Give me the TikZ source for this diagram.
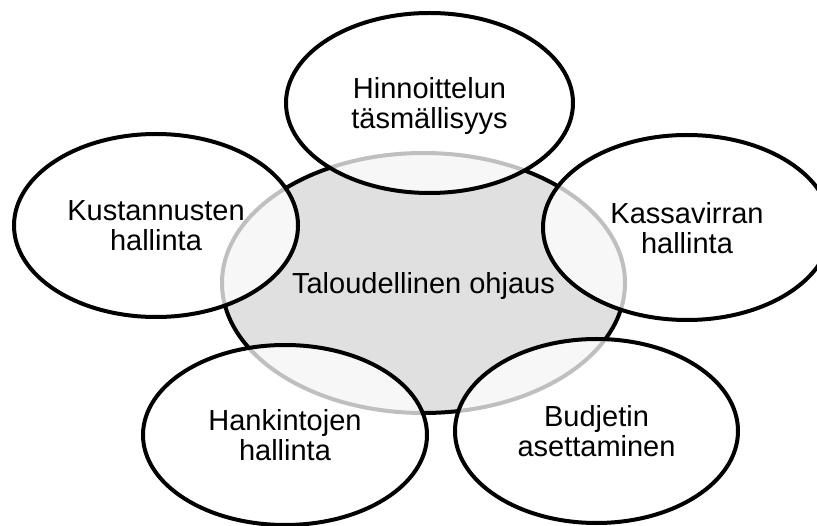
\documentclass[tikz,border=0pt]{standalone}
\usepackage{fontspec}
\setmainfont{Liberation Sans}
\usetikzlibrary{shapes.geometric}
\definecolor{coregray}{HTML}{E0E0E0}
\tikzset{
  bubble/.style={ellipse, draw=black, line width=4pt, inner sep=0pt,
    align=center, text depth=0pt, font=\fontsize{29}{30}\selectfont},
  core/.style={bubble, fill=coregray},
  petal/.style={bubble, fill=white, fill opacity=0.75, draw opacity=1, text opacity=1},
}
\begin{document}
\begin{tikzpicture}[x=1pt,y=-1pt]
  \useasboundingbox (0,0) rectangle (817,526);
  % central topic
  \node[core, minimum width=403pt, minimum height=260pt] (core) at (423.5,283) {Taloudellinen ohjaus};
  % surrounding topics, translucent so the core shows through
  \node[petal, minimum width=287pt, minimum height=180pt] (price) at (429.5,103) {Hinnoittelun\\täsmällisyys};
  \node[petal, minimum width=284pt, minimum height=183pt] (cost) at (156,225.5) {Kustannusten\\hallinta};
  \node[petal, minimum width=288pt, minimum height=185pt] (cash) at (687,227.5) {Kassavirran\\hallinta};
  \node[petal, minimum width=284pt, minimum height=180pt] (purchase) at (285,435) {Hankintojen\\hallinta};
  \node[petal, minimum width=283pt, minimum height=184pt] (budget) at (596.5,431) {Budjetin\\asettaminen};
\end{tikzpicture}
\end{document}
